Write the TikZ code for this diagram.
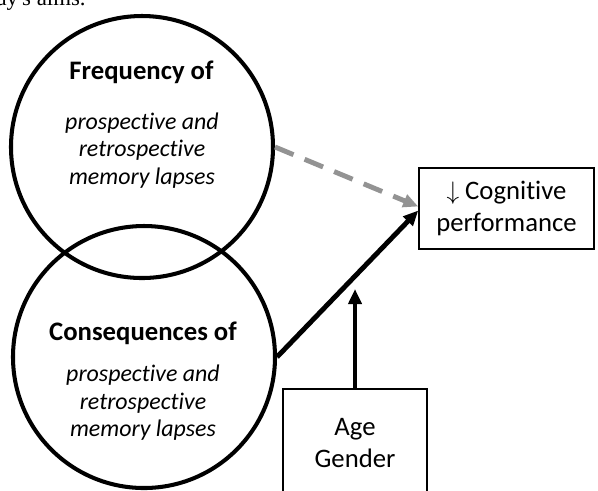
\documentclass[tikz,border=0pt]{standalone}
\usepackage{fontspec}
\setmainfont{Carlito}[Ligatures=NoCommon]
\newfontfamily\capfont{Liberation Serif}
\usepackage{tikz}
\usetikzlibrary{positioning, arrows.meta, calc}
\tikzset{
  lapsecircle/.style = {draw, circle, line width=2.3pt, minimum size=5.24cm, inner sep=0pt},
  headtext/.style    = {font=\fontsize{15.2}{18}\selectfont\bfseries, align=center},
  lapsetext/.style   = {font=\fontsize{13.6}{15.6}\selectfont\itshape, align=center},
  outbox/.style      = {draw, line width=0.85pt, minimum width=3.5cm, minimum height=1.62cm,
                        font=\fontsize{15.2}{18.2}\selectfont, align=center},
  covbox/.style      = {draw, line width=0.85pt, minimum width=2.88cm, minimum height=2.16cm,
                        font=\fontsize{15.2}{18.2}\selectfont, align=center},
  effect/.style      = {-{Triangle[length=3mm, width=2.6mm]}, line width=2.8pt},
  weakeffect/.style  = {-{Triangle[length=3mm, width=2.6mm]}, line width=2.8pt,
                        draw=gray!85, dash pattern=on 0.4cm off 0.24cm}
}

\begin{document}
\begin{tikzpicture}[x=1cm, y=1cm]
    \useasboundingbox (0,0) rectangle (11.96,-9.8);

    % --- caption fragment cut off at the top --------------------------------
    \node[font=\fontsize{13}{15}\selectfont\capfont, anchor=base east, inner sep=0pt]
      (capt) at (1.72, -0.1) {ay's aims.};

    % --- the two overlapping circles ----------------------------------------
    \node[lapsecircle] (freq) at (2.84, -2.94) {};
    \node[lapsecircle] (cons) at (2.88, -7.14) {};

    \node[headtext]  (freqhead) at (2.83, -1.44) {Frequency of};
    \node[lapsetext] (freqtxt)  at (2.84, -3.01)
      {prospective and\\ retrospective\\ memory lapses};

    \node[headtext]  (conshead) at (2.86, -6.66) {Consequences of};
    \node[lapsetext] (constxt)  at (2.86, -8.06)
      {prospective and\\ retrospective\\ memory lapses};

    % --- outcome and covariates ---------------------------------------------
    \node[outbox] (cog) at (10.13, -4.17) {$\downarrow$ Cognitive\\ performance};
    \node[covbox] (cov) at (7.1, -8.86) {Age\\ Gender};
    \coordinate (covtip) at (7.1, -5.78);

    % --- arrows -------------------------------------------------------------
    \draw[weakeffect] (freq.east) -- ([yshift=0.04cm]cog.west);
    \draw[effect] (cons.east) -- ([yshift=-0.04cm]cog.west);
    \draw[effect] (cov.north) -- (covtip);

  \end{tikzpicture}
\end{document}
